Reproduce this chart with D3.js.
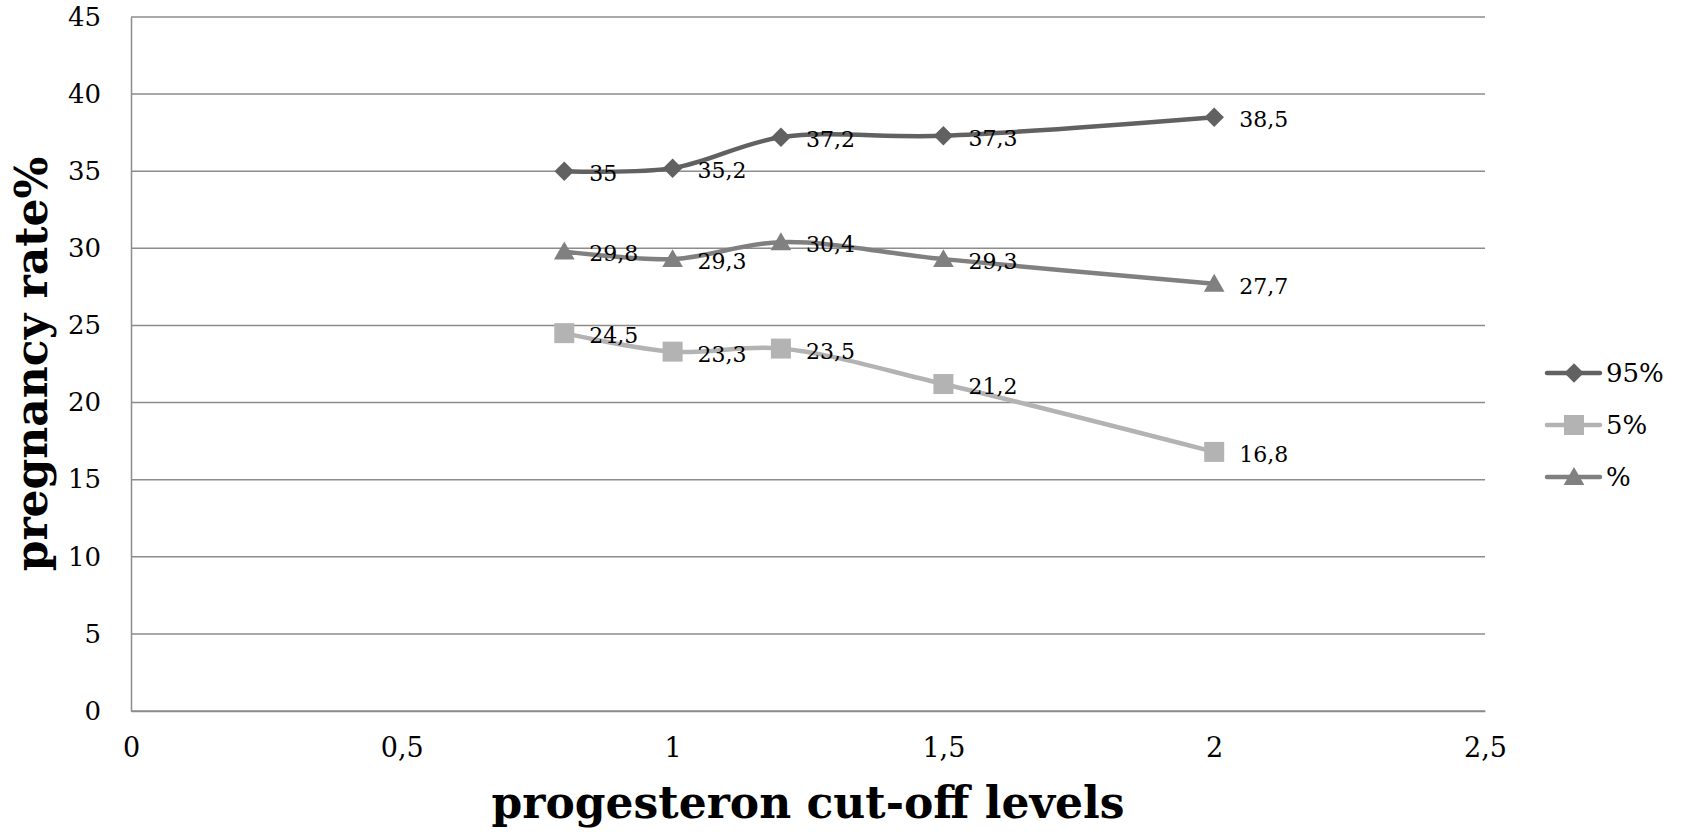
<!DOCTYPE html>
<html>
<head>
<meta charset="utf-8">
<script src="https://cdn.jsdelivr.net/npm/d3@7"></script>
<style>
  html, body { margin: 0; padding: 0; background: #fff; }
  svg { display: block; }
  text { font-family: "DejaVu Serif", "Liberation Serif", serif; fill: #000; }
</style>
</head>
<body>
<svg id="chart" width="1686" height="832"></svg>
<script>
// Progesterone cut-off levels (x) and pregnancy rates per series
const cutoffs = [0.8, 1, 1.2, 1.5, 2];
const upper95 = [35, 35.2, 37.2, 37.3, 38.5];
const lower5 = [24.5, 23.3, 23.5, 21.2, 16.8];
const rate = [29.8, 29.3, 30.4, 29.3, 27.7];
const seriesNames = ["95%", "5%", "%"];
const xTicks = [0, 0.5, 1, 1.5, 2, 2.5];
const yTicks = [0, 5, 10, 15, 20, 25, 30, 35, 40, 45];

const series = [
  { name: seriesNames[0], values: upper95, color: "#616161", marker: "diamond" },
  { name: seriesNames[1], values: lower5, color: "#b3b3b3", marker: "square" },
  { name: seriesNames[2], values: rate, color: "#808080", marker: "triangle" }
];

const fmt = v => String(v).replace(".", ",");

const margin = { left: 131, right: 201, top: 17, bottom: 121 };
const W = 1686, H = 832;
const svg = d3.select("#chart");

const x = d3.scaleLinear().domain([0, 2.5]).range([margin.left, W - margin.right]);
const y = d3.scaleLinear().domain([0, 45]).range([H - margin.bottom, margin.top]);

// horizontal gridlines
svg.append("g")
  .selectAll("line")
  .data(yTicks)
  .join("line")
  .attr("x1", x(0)).attr("x2", x(2.5))
  .attr("y1", d => y(d)).attr("y2", d => y(d))
  .attr("stroke", "#8c8c8c").attr("stroke-width", 1.5);

// y axis
const yAxis = svg.append("g")
  .attr("transform", `translate(${x(0)},0)`)
  .call(d3.axisLeft(y).tickValues(yTicks).tickSize(0).tickPadding(30).tickFormat(fmt));
yAxis.select(".domain").attr("stroke", "#8c8c8c").attr("stroke-width", 1.5);
yAxis.selectAll("text").attr("font-size", 26).attr("font-family", "DejaVu Serif");

// x axis
const xAxis = svg.append("g")
  .attr("transform", `translate(0,${y(0)})`)
  .call(d3.axisBottom(x).tickValues(xTicks).tickSize(0).tickPadding(27).tickFormat(fmt));
xAxis.select(".domain").attr("stroke", "#8c8c8c").attr("stroke-width", 1.5);
xAxis.selectAll("text").attr("font-size", 27).attr("font-family", "DejaVu Serif");

// axis titles
svg.append("text")
  .attr("x", (x(0) + x(2.5)) / 2).attr("y", 818)
  .attr("text-anchor", "middle")
  .attr("font-size", 44).attr("font-weight", "bold")
  .text("progesteron cut-off levels");

svg.append("text")
  .attr("transform", `translate(47,${(y(0) + y(45)) / 2}) rotate(-90)`)
  .attr("text-anchor", "middle")
  .attr("font-size", 44).attr("font-weight", "bold")
  .text("pregnancy rate%");

// marker shapes
const diamond = { draw(ctx, size) { const r = Math.sqrt(size) / 2; ctx.moveTo(0, -r); ctx.lineTo(r, 0); ctx.lineTo(0, r); ctx.lineTo(-r, 0); ctx.closePath(); } };
const symbolFor = m => m === "diamond" ? diamond : m === "square" ? d3.symbolSquare : d3.symbolTriangle;
const sizeFor = m => m === "diamond" ? 380 : m === "square" ? 400 : 185;

const line = d3.line()
  .x((d, i) => x(cutoffs[i]))
  .y(d => y(d))
  .curve(d3.curveCatmullRom.alpha(0.5));

// draw order: 5%, %, 95%
[series[1], series[2], series[0]].forEach(s => {
  const g = svg.append("g");
  g.append("path")
    .attr("d", line(s.values))
    .attr("fill", "none")
    .attr("stroke", s.color)
    .attr("stroke-width", 4.5)
    .attr("stroke-linecap", "round");
  g.selectAll("path.mk")
    .data(s.values)
    .join("path")
    .attr("class", "mk")
    .attr("transform", (d, i) => `translate(${x(cutoffs[i])},${y(d) + (s.marker === "triangle" ? 2 : 0)})`)
    .attr("d", d3.symbol().type(symbolFor(s.marker)).size(sizeFor(s.marker)))
    .attr("fill", s.color);
  g.selectAll("text")
    .data(s.values)
    .join("text")
    .attr("x", (d, i) => x(cutoffs[i]) + 25)
    .attr("y", d => y(d) + 10)
    .attr("font-size", 22)
    .text(d => fmt(d));
});

// legend
const legend = svg.append("g");
series.forEach((s, i) => {
  const ly = 373 + i * 52;
  const g = legend.append("g").attr("transform", `translate(1547,${ly})`);
  g.append("line").attr("x1", 0).attr("x2", 53).attr("y1", 0).attr("y2", 0)
    .attr("stroke", s.color).attr("stroke-width", 4.5).attr("stroke-linecap", "round");
  g.append("path")
    .attr("transform", `translate(27,${s.marker === "triangle" ? 2 : 0})`)
    .attr("d", d3.symbol().type(symbolFor(s.marker)).size(sizeFor(s.marker)))
    .attr("fill", s.color);
  g.append("text").attr("x", 59).attr("y", 9).attr("font-size", 26).text(s.name);
});
</script>
</body>
</html>
